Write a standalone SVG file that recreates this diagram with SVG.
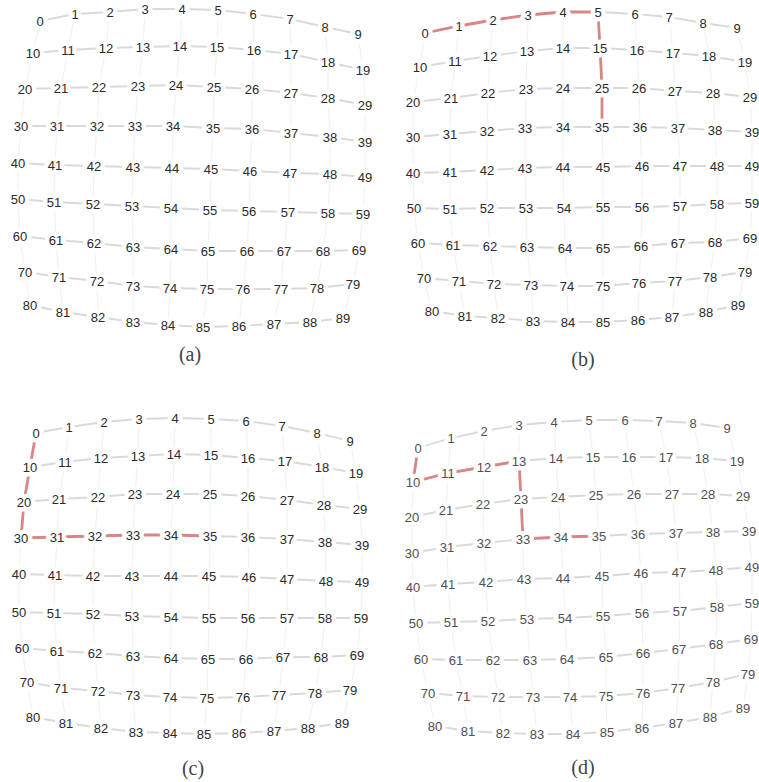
<svg xmlns="http://www.w3.org/2000/svg" width="759" height="782" viewBox="0 0 759 782">
<style>
.n{font-family:"Liberation Sans",Arial,sans-serif;font-size:13px;fill:#2a2a2a;text-anchor:middle;stroke:#fff;stroke-width:9;stroke-linejoin:round;paint-order:stroke}
#D .n{fill:#505050}
.h{fill:none;stroke:#d9d9d9;stroke-width:1.8}
.v{fill:none;stroke:#f2f2f2;stroke-width:1.2}
.r{fill:none;stroke:#d88585;stroke-width:2.8}
.cap{font-family:"Liberation Serif","Times New Roman",serif;font-size:20px;fill:#444;text-anchor:middle}
</style>
<rect width="759" height="782" fill="#fff"/>
<g id="connectors">
<g id="A-lines">
<polyline class="v" points="40,21 33,53 25,89 21,126 18,163 18,199 20,236 25,272 30,305"/>
<polyline class="v" points="75,14 68,50 61,88 57,126 55,165 54,202 56,240 59,277 63,312"/>
<polyline class="v" points="110,12 106,48 99,87 97,126 94,166 93,204 94,243 97,281 98,317"/>
<polyline class="v" points="145,9 143,47 138,86 135,126 133,167 132,206 133,247 133,286 133,322"/>
<polyline class="v" points="182,9 180,46 176,85 173,126 172,168 171,208 171,249 170,288 168,325"/>
<polyline class="v" points="218,10 217,47 214,87 213,128 211,169 210,210 208,251 207,289 203,327"/>
<polyline class="v" points="253,14 254,50 252,89 252,129 250,171 249,211 247,251 243,289 239,326"/>
<polyline class="v" points="290,19 291,54 291,93 291,133 290,173 288,212 284,251 281,289 274,324"/>
<polyline class="v" points="325,27 328,62 328,98 330,137 330,174 328,213 323,251 317,288 310,322"/>
<polyline class="v" points="358,34 363,70 365,105 365,142 365,177 363,214 359,250 353,284 343,318"/>
<polyline class="h" points="40,21 75,14 110,12 145,9 182,9 218,10 253,14 290,19 325,27 358,34"/>
<polyline class="h" points="33,53 68,50 106,48 143,47 180,46 217,47 254,50 291,54 328,62 363,70"/>
<polyline class="h" points="25,89 61,88 99,87 138,86 176,85 214,87 252,89 291,93 328,98 365,105"/>
<polyline class="h" points="21,126 57,126 97,126 135,126 173,126 213,128 252,129 291,133 330,137 365,142"/>
<polyline class="h" points="18,163 55,165 94,166 133,167 172,168 211,169 250,171 290,173 330,174 365,177"/>
<polyline class="h" points="18,199 54,202 93,204 132,206 171,208 210,210 249,211 288,212 328,213 363,214"/>
<polyline class="h" points="20,236 56,240 94,243 133,247 171,249 208,251 247,251 284,251 323,251 359,250"/>
<polyline class="h" points="25,272 59,277 97,281 133,286 170,288 207,289 243,289 281,289 317,288 353,284"/>
<polyline class="h" points="30,305 63,312 98,317 133,322 168,325 203,327 239,326 274,324 310,322 343,318"/>
</g>
<g id="B-lines">
<polyline class="v" points="425,33 420,67 413,102 413,137 413,173 414,208 418,243 424,278 432,311"/>
<polyline class="v" points="459,26 455,61 451,98 450,134 450,172 450,209 453,245 459,281 465,316"/>
<polyline class="v" points="493,20 490,56 488,93 487,131 487,170 487,208 490,246 494,284 498,318"/>
<polyline class="v" points="528,15 527,51 526,89 525,128 525,168 526,208 527,247 531,285 533,321"/>
<polyline class="v" points="563,12 563,48 563,88 563,127 563,167 564,208 565,248 567,286 568,322"/>
<polyline class="v" points="598,12 600,48 602,88 602,127 603,167 603,207 603,248 603,286 603,322"/>
<polyline class="v" points="635,14 637,50 639,88 640,127 642,166 642,207 641,246 639,283 638,320"/>
<polyline class="v" points="669,17 673,53 675,91 678,128 680,166 680,206 678,243 675,281 672,317"/>
<polyline class="v" points="703,23 709,56 713,93 715,130 717,166 717,204 715,242 710,277 706,312"/>
<polyline class="v" points="737,28 745,62 750,97 752,132 752,166 752,203 750,238 745,272 738,305"/>
<polyline class="h" points="425,33 459,26 493,20 528,15 563,12 598,12 635,14 669,17 703,23 737,28"/>
<polyline class="h" points="420,67 455,61 490,56 527,51 563,48 600,48 637,50 673,53 709,56 745,62"/>
<polyline class="h" points="413,102 451,98 488,93 526,89 563,88 602,88 639,88 675,91 713,93 750,97"/>
<polyline class="h" points="413,137 450,134 487,131 525,128 563,127 602,127 640,127 678,128 715,130 752,132"/>
<polyline class="h" points="413,173 450,172 487,170 525,168 563,167 603,167 642,166 680,166 717,166 752,166"/>
<polyline class="h" points="414,208 450,209 487,208 526,208 564,208 603,207 642,207 680,206 717,204 752,203"/>
<polyline class="h" points="418,243 453,245 490,246 527,247 565,248 603,248 641,246 678,243 715,242 750,238"/>
<polyline class="h" points="424,278 459,281 494,284 531,285 567,286 603,286 639,283 675,281 710,277 745,272"/>
<polyline class="h" points="432,311 465,316 498,318 533,321 568,322 603,322 638,320 672,317 706,312 738,305"/>
<polyline class="r" points="425,33 459,26 493,20 528,15 563,12 598,12 600,48 602,88 602,127"/>
</g>
<g id="C-lines">
<polyline class="v" points="36,433 30,467 24,502 21,538 19,574 19,612 22,648 27,682 33,717"/>
<polyline class="v" points="69,427 65,462 59,499 57,537 55,575 54,613 57,651 61,688 66,723"/>
<polyline class="v" points="104,422 101,458 98,497 95,536 93,576 93,614 95,653 98,691 101,728"/>
<polyline class="v" points="139,419 138,456 135,494 133,535 132,576 132,616 133,656 133,695 136,732"/>
<polyline class="v" points="175,418 174,454 173,494 171,535 171,576 171,617 171,658 170,697 170,733"/>
<polyline class="v" points="211,419 211,455 210,494 210,536 209,576 209,618 208,659 207,698 204,734"/>
<polyline class="v" points="246,421 248,458 248,496 248,537 249,577 248,618 246,659 243,697 239,733"/>
<polyline class="v" points="282,426 285,461 287,500 287,539 287,579 287,618 283,657 279,695 274,731"/>
<polyline class="v" points="317,433 322,467 324,505 325,542 326,581 325,618 321,657 315,693 308,728"/>
<polyline class="v" points="350,441 356,473 360,509 362,545 362,582 361,618 357,655 350,690 342,723"/>
<polyline class="h" points="36,433 69,427 104,422 139,419 175,418 211,419 246,421 282,426 317,433 350,441"/>
<polyline class="h" points="30,467 65,462 101,458 138,456 174,454 211,455 248,458 285,461 322,467 356,473"/>
<polyline class="h" points="24,502 59,499 98,497 135,494 173,494 210,494 248,496 287,500 324,505 360,509"/>
<polyline class="h" points="21,538 57,537 95,536 133,535 171,535 210,536 248,537 287,539 325,542 362,545"/>
<polyline class="h" points="19,574 55,575 93,576 132,576 171,576 209,576 249,577 287,579 326,581 362,582"/>
<polyline class="h" points="19,612 54,613 93,614 132,616 171,617 209,618 248,618 287,618 325,618 361,618"/>
<polyline class="h" points="22,648 57,651 95,653 133,656 171,658 208,659 246,659 283,657 321,657 357,655"/>
<polyline class="h" points="27,682 61,688 98,691 133,695 170,697 207,698 243,697 279,695 315,693 350,690"/>
<polyline class="h" points="33,717 66,723 101,728 136,732 170,733 204,734 239,733 274,731 308,728 342,723"/>
<polyline class="r" points="36,433 30,467 24,502 21,538 57,537 95,536 133,535 171,535 210,536"/>
</g>
<g id="D-lines">
<polyline class="v" points="418,448 413,482 412,517 412,553 413,587 416,623 421,659 428,693 435,726"/>
<polyline class="v" points="451,438 448,473 446,510 447,547 448,584 451,622 456,660 463,696 468,731"/>
<polyline class="v" points="484,431 484,467 483,504 484,543 486,582 488,621 493,660 498,697 503,733"/>
<polyline class="v" points="519,425 519,461 521,499 523,539 524,579 527,619 530,660 533,697 537,734"/>
<polyline class="v" points="554,422 556,458 558,497 561,537 563,578 565,618 567,659 570,697 573,734"/>
<polyline class="v" points="589,420 593,457 596,495 599,536 602,576 603,616 606,657 606,696 607,732"/>
<polyline class="v" points="625,420 629,457 634,494 638,534 641,573 642,613 643,653 643,693 642,728"/>
<polyline class="v" points="659,421 666,457 672,494 676,533 679,572 680,611 679,649 678,688 676,723"/>
<polyline class="v" points="693,423 702,458 708,494 713,532 716,570 717,607 716,644 713,682 710,717"/>
<polyline class="v" points="727,428 737,461 743,496 749,531 752,567 752,603 751,639 748,674 743,708"/>
<polyline class="h" points="418,448 451,438 484,431 519,425 554,422 589,420 625,420 659,421 693,423 727,428"/>
<polyline class="h" points="413,482 448,473 484,467 519,461 556,458 593,457 629,457 666,457 702,458 737,461"/>
<polyline class="h" points="412,517 446,510 483,504 521,499 558,497 596,495 634,494 672,494 708,494 743,496"/>
<polyline class="h" points="412,553 447,547 484,543 523,539 561,537 599,536 638,534 676,533 713,532 749,531"/>
<polyline class="h" points="413,587 448,584 486,582 524,579 563,578 602,576 641,573 679,572 716,570 752,567"/>
<polyline class="h" points="416,623 451,622 488,621 527,619 565,618 603,616 642,613 680,611 717,607 752,603"/>
<polyline class="h" points="421,659 456,660 493,660 530,660 567,659 606,657 643,653 679,649 716,644 751,639"/>
<polyline class="h" points="428,693 463,696 498,697 533,697 570,697 606,696 643,693 678,688 713,682 748,674"/>
<polyline class="h" points="435,726 468,731 503,733 537,734 573,734 607,732 642,728 676,723 710,717 743,708"/>
<polyline class="r" points="418,448 413,482 448,473 484,467 519,461 521,499 523,539 561,537 599,536"/>
</g>
</g>
<g id="A">
<g id="a0"><text class="n" x="40" y="26">0</text></g><g id="a1"><text class="n" x="75" y="19">1</text></g><g id="a2"><text class="n" x="110" y="17">2</text></g><g id="a3"><text class="n" x="145" y="14">3</text></g><g id="a4"><text class="n" x="182" y="14">4</text></g><g id="a5"><text class="n" x="218" y="15">5</text></g><g id="a6"><text class="n" x="253" y="19">6</text></g><g id="a7"><text class="n" x="290" y="24">7</text></g><g id="a8"><text class="n" x="325" y="32">8</text></g><g id="a9"><text class="n" x="358" y="39">9</text></g>
<g id="a10"><text class="n" x="33" y="58">10</text></g><g id="a11"><text class="n" x="68" y="55">11</text></g><g id="a12"><text class="n" x="106" y="53">12</text></g><g id="a13"><text class="n" x="143" y="52">13</text></g><g id="a14"><text class="n" x="180" y="51">14</text></g><g id="a15"><text class="n" x="217" y="52">15</text></g><g id="a16"><text class="n" x="254" y="55">16</text></g><g id="a17"><text class="n" x="291" y="59">17</text></g><g id="a18"><text class="n" x="328" y="67">18</text></g><g id="a19"><text class="n" x="363" y="75">19</text></g>
<g id="a20"><text class="n" x="25" y="94">20</text></g><g id="a21"><text class="n" x="61" y="93">21</text></g><g id="a22"><text class="n" x="99" y="92">22</text></g><g id="a23"><text class="n" x="138" y="91">23</text></g><g id="a24"><text class="n" x="176" y="90">24</text></g><g id="a25"><text class="n" x="214" y="92">25</text></g><g id="a26"><text class="n" x="252" y="94">26</text></g><g id="a27"><text class="n" x="291" y="98">27</text></g><g id="a28"><text class="n" x="328" y="103">28</text></g><g id="a29"><text class="n" x="365" y="110">29</text></g>
<g id="a30"><text class="n" x="21" y="131">30</text></g><g id="a31"><text class="n" x="57" y="131">31</text></g><g id="a32"><text class="n" x="97" y="131">32</text></g><g id="a33"><text class="n" x="135" y="131">33</text></g><g id="a34"><text class="n" x="173" y="131">34</text></g><g id="a35"><text class="n" x="213" y="133">35</text></g><g id="a36"><text class="n" x="252" y="134">36</text></g><g id="a37"><text class="n" x="291" y="138">37</text></g><g id="a38"><text class="n" x="330" y="142">38</text></g><g id="a39"><text class="n" x="365" y="147">39</text></g>
<g id="a40"><text class="n" x="18" y="168">40</text></g><g id="a41"><text class="n" x="55" y="170">41</text></g><g id="a42"><text class="n" x="94" y="171">42</text></g><g id="a43"><text class="n" x="133" y="172">43</text></g><g id="a44"><text class="n" x="172" y="173">44</text></g><g id="a45"><text class="n" x="211" y="174">45</text></g><g id="a46"><text class="n" x="250" y="176">46</text></g><g id="a47"><text class="n" x="290" y="178">47</text></g><g id="a48"><text class="n" x="330" y="179">48</text></g><g id="a49"><text class="n" x="365" y="182">49</text></g>
<g id="a50"><text class="n" x="18" y="204">50</text></g><g id="a51"><text class="n" x="54" y="207">51</text></g><g id="a52"><text class="n" x="93" y="209">52</text></g><g id="a53"><text class="n" x="132" y="211">53</text></g><g id="a54"><text class="n" x="171" y="213">54</text></g><g id="a55"><text class="n" x="210" y="215">55</text></g><g id="a56"><text class="n" x="249" y="216">56</text></g><g id="a57"><text class="n" x="288" y="217">57</text></g><g id="a58"><text class="n" x="328" y="218">58</text></g><g id="a59"><text class="n" x="363" y="219">59</text></g>
<g id="a60"><text class="n" x="20" y="241">60</text></g><g id="a61"><text class="n" x="56" y="245">61</text></g><g id="a62"><text class="n" x="94" y="248">62</text></g><g id="a63"><text class="n" x="133" y="252">63</text></g><g id="a64"><text class="n" x="171" y="254">64</text></g><g id="a65"><text class="n" x="208" y="256">65</text></g><g id="a66"><text class="n" x="247" y="256">66</text></g><g id="a67"><text class="n" x="284" y="256">67</text></g><g id="a68"><text class="n" x="323" y="256">68</text></g><g id="a69"><text class="n" x="359" y="255">69</text></g>
<g id="a70"><text class="n" x="25" y="277">70</text></g><g id="a71"><text class="n" x="59" y="282">71</text></g><g id="a72"><text class="n" x="97" y="286">72</text></g><g id="a73"><text class="n" x="133" y="291">73</text></g><g id="a74"><text class="n" x="170" y="293">74</text></g><g id="a75"><text class="n" x="207" y="294">75</text></g><g id="a76"><text class="n" x="243" y="294">76</text></g><g id="a77"><text class="n" x="281" y="294">77</text></g><g id="a78"><text class="n" x="317" y="293">78</text></g><g id="a79"><text class="n" x="353" y="289">79</text></g>
<g id="a80"><text class="n" x="30" y="310">80</text></g><g id="a81"><text class="n" x="63" y="317">81</text></g><g id="a82"><text class="n" x="98" y="322">82</text></g><g id="a83"><text class="n" x="133" y="327">83</text></g><g id="a84"><text class="n" x="168" y="330">84</text></g><g id="a85"><text class="n" x="203" y="332">85</text></g><g id="a86"><text class="n" x="239" y="331">86</text></g><g id="a87"><text class="n" x="274" y="329">87</text></g><g id="a88"><text class="n" x="310" y="327">88</text></g><g id="a89"><text class="n" x="343" y="323">89</text></g>
<text class="cap" x="190" y="361">(a)</text>
</g>
<g id="B">
<g id="b0"><text class="n" x="425" y="38">0</text></g><g id="b1"><text class="n" x="459" y="31">1</text></g><g id="b2"><text class="n" x="493" y="25">2</text></g><g id="b3"><text class="n" x="528" y="20">3</text></g><g id="b4"><text class="n" x="563" y="17">4</text></g><g id="b5"><text class="n" x="598" y="17">5</text></g><g id="b6"><text class="n" x="635" y="19">6</text></g><g id="b7"><text class="n" x="669" y="22">7</text></g><g id="b8"><text class="n" x="703" y="28">8</text></g><g id="b9"><text class="n" x="737" y="33">9</text></g>
<g id="b10"><text class="n" x="420" y="72">10</text></g><g id="b11"><text class="n" x="455" y="66">11</text></g><g id="b12"><text class="n" x="490" y="61">12</text></g><g id="b13"><text class="n" x="527" y="56">13</text></g><g id="b14"><text class="n" x="563" y="53">14</text></g><g id="b15"><text class="n" x="600" y="53">15</text></g><g id="b16"><text class="n" x="637" y="55">16</text></g><g id="b17"><text class="n" x="673" y="58">17</text></g><g id="b18"><text class="n" x="709" y="61">18</text></g><g id="b19"><text class="n" x="745" y="67">19</text></g>
<g id="b20"><text class="n" x="413" y="107">20</text></g><g id="b21"><text class="n" x="451" y="103">21</text></g><g id="b22"><text class="n" x="488" y="98">22</text></g><g id="b23"><text class="n" x="526" y="94">23</text></g><g id="b24"><text class="n" x="563" y="93">24</text></g><g id="b25"><text class="n" x="602" y="93">25</text></g><g id="b26"><text class="n" x="639" y="93">26</text></g><g id="b27"><text class="n" x="675" y="96">27</text></g><g id="b28"><text class="n" x="713" y="98">28</text></g><g id="b29"><text class="n" x="750" y="102">29</text></g>
<g id="b30"><text class="n" x="413" y="142">30</text></g><g id="b31"><text class="n" x="450" y="139">31</text></g><g id="b32"><text class="n" x="487" y="136">32</text></g><g id="b33"><text class="n" x="525" y="133">33</text></g><g id="b34"><text class="n" x="563" y="132">34</text></g><g id="b35"><text class="n" x="602" y="132">35</text></g><g id="b36"><text class="n" x="640" y="132">36</text></g><g id="b37"><text class="n" x="678" y="133">37</text></g><g id="b38"><text class="n" x="715" y="135">38</text></g><g id="b39"><text class="n" x="752" y="137">39</text></g>
<g id="b40"><text class="n" x="413" y="178">40</text></g><g id="b41"><text class="n" x="450" y="177">41</text></g><g id="b42"><text class="n" x="487" y="175">42</text></g><g id="b43"><text class="n" x="525" y="173">43</text></g><g id="b44"><text class="n" x="563" y="172">44</text></g><g id="b45"><text class="n" x="603" y="172">45</text></g><g id="b46"><text class="n" x="642" y="171">46</text></g><g id="b47"><text class="n" x="680" y="171">47</text></g><g id="b48"><text class="n" x="717" y="171">48</text></g><g id="b49"><text class="n" x="752" y="171">49</text></g>
<g id="b50"><text class="n" x="414" y="213">50</text></g><g id="b51"><text class="n" x="450" y="214">51</text></g><g id="b52"><text class="n" x="487" y="213">52</text></g><g id="b53"><text class="n" x="526" y="213">53</text></g><g id="b54"><text class="n" x="564" y="213">54</text></g><g id="b55"><text class="n" x="603" y="212">55</text></g><g id="b56"><text class="n" x="642" y="212">56</text></g><g id="b57"><text class="n" x="680" y="211">57</text></g><g id="b58"><text class="n" x="717" y="209">58</text></g><g id="b59"><text class="n" x="752" y="208">59</text></g>
<g id="b60"><text class="n" x="418" y="248">60</text></g><g id="b61"><text class="n" x="453" y="250">61</text></g><g id="b62"><text class="n" x="490" y="251">62</text></g><g id="b63"><text class="n" x="527" y="252">63</text></g><g id="b64"><text class="n" x="565" y="253">64</text></g><g id="b65"><text class="n" x="603" y="253">65</text></g><g id="b66"><text class="n" x="641" y="251">66</text></g><g id="b67"><text class="n" x="678" y="248">67</text></g><g id="b68"><text class="n" x="715" y="247">68</text></g><g id="b69"><text class="n" x="750" y="243">69</text></g>
<g id="b70"><text class="n" x="424" y="283">70</text></g><g id="b71"><text class="n" x="459" y="286">71</text></g><g id="b72"><text class="n" x="494" y="289">72</text></g><g id="b73"><text class="n" x="531" y="290">73</text></g><g id="b74"><text class="n" x="567" y="291">74</text></g><g id="b75"><text class="n" x="603" y="291">75</text></g><g id="b76"><text class="n" x="639" y="288">76</text></g><g id="b77"><text class="n" x="675" y="286">77</text></g><g id="b78"><text class="n" x="710" y="282">78</text></g><g id="b79"><text class="n" x="745" y="277">79</text></g>
<g id="b80"><text class="n" x="432" y="316">80</text></g><g id="b81"><text class="n" x="465" y="321">81</text></g><g id="b82"><text class="n" x="498" y="323">82</text></g><g id="b83"><text class="n" x="533" y="326">83</text></g><g id="b84"><text class="n" x="568" y="327">84</text></g><g id="b85"><text class="n" x="603" y="327">85</text></g><g id="b86"><text class="n" x="638" y="325">86</text></g><g id="b87"><text class="n" x="672" y="322">87</text></g><g id="b88"><text class="n" x="706" y="317">88</text></g><g id="b89"><text class="n" x="738" y="310">89</text></g>
<text class="cap" x="583" y="366">(b)</text>
</g>
<g id="C">
<g id="c0"><text class="n" x="36" y="438">0</text></g><g id="c1"><text class="n" x="69" y="432">1</text></g><g id="c2"><text class="n" x="104" y="427">2</text></g><g id="c3"><text class="n" x="139" y="424">3</text></g><g id="c4"><text class="n" x="175" y="423">4</text></g><g id="c5"><text class="n" x="211" y="424">5</text></g><g id="c6"><text class="n" x="246" y="426">6</text></g><g id="c7"><text class="n" x="282" y="431">7</text></g><g id="c8"><text class="n" x="317" y="438">8</text></g><g id="c9"><text class="n" x="350" y="446">9</text></g>
<g id="c10"><text class="n" x="30" y="472">10</text></g><g id="c11"><text class="n" x="65" y="467">11</text></g><g id="c12"><text class="n" x="101" y="463">12</text></g><g id="c13"><text class="n" x="138" y="461">13</text></g><g id="c14"><text class="n" x="174" y="459">14</text></g><g id="c15"><text class="n" x="211" y="460">15</text></g><g id="c16"><text class="n" x="248" y="463">16</text></g><g id="c17"><text class="n" x="285" y="466">17</text></g><g id="c18"><text class="n" x="322" y="472">18</text></g><g id="c19"><text class="n" x="356" y="478">19</text></g>
<g id="c20"><text class="n" x="24" y="507">20</text></g><g id="c21"><text class="n" x="59" y="504">21</text></g><g id="c22"><text class="n" x="98" y="502">22</text></g><g id="c23"><text class="n" x="135" y="499">23</text></g><g id="c24"><text class="n" x="173" y="499">24</text></g><g id="c25"><text class="n" x="210" y="499">25</text></g><g id="c26"><text class="n" x="248" y="501">26</text></g><g id="c27"><text class="n" x="287" y="505">27</text></g><g id="c28"><text class="n" x="324" y="510">28</text></g><g id="c29"><text class="n" x="360" y="514">29</text></g>
<g id="c30"><text class="n" x="21" y="543">30</text></g><g id="c31"><text class="n" x="57" y="542">31</text></g><g id="c32"><text class="n" x="95" y="541">32</text></g><g id="c33"><text class="n" x="133" y="540">33</text></g><g id="c34"><text class="n" x="171" y="540">34</text></g><g id="c35"><text class="n" x="210" y="541">35</text></g><g id="c36"><text class="n" x="248" y="542">36</text></g><g id="c37"><text class="n" x="287" y="544">37</text></g><g id="c38"><text class="n" x="325" y="547">38</text></g><g id="c39"><text class="n" x="362" y="550">39</text></g>
<g id="c40"><text class="n" x="19" y="579">40</text></g><g id="c41"><text class="n" x="55" y="580">41</text></g><g id="c42"><text class="n" x="93" y="581">42</text></g><g id="c43"><text class="n" x="132" y="581">43</text></g><g id="c44"><text class="n" x="171" y="581">44</text></g><g id="c45"><text class="n" x="209" y="581">45</text></g><g id="c46"><text class="n" x="249" y="582">46</text></g><g id="c47"><text class="n" x="287" y="584">47</text></g><g id="c48"><text class="n" x="326" y="586">48</text></g><g id="c49"><text class="n" x="362" y="587">49</text></g>
<g id="c50"><text class="n" x="19" y="617">50</text></g><g id="c51"><text class="n" x="54" y="618">51</text></g><g id="c52"><text class="n" x="93" y="619">52</text></g><g id="c53"><text class="n" x="132" y="621">53</text></g><g id="c54"><text class="n" x="171" y="622">54</text></g><g id="c55"><text class="n" x="209" y="623">55</text></g><g id="c56"><text class="n" x="248" y="623">56</text></g><g id="c57"><text class="n" x="287" y="623">57</text></g><g id="c58"><text class="n" x="325" y="623">58</text></g><g id="c59"><text class="n" x="361" y="623">59</text></g>
<g id="c60"><text class="n" x="22" y="653">60</text></g><g id="c61"><text class="n" x="57" y="656">61</text></g><g id="c62"><text class="n" x="95" y="658">62</text></g><g id="c63"><text class="n" x="133" y="661">63</text></g><g id="c64"><text class="n" x="171" y="663">64</text></g><g id="c65"><text class="n" x="208" y="664">65</text></g><g id="c66"><text class="n" x="246" y="664">66</text></g><g id="c67"><text class="n" x="283" y="662">67</text></g><g id="c68"><text class="n" x="321" y="662">68</text></g><g id="c69"><text class="n" x="357" y="660">69</text></g>
<g id="c70"><text class="n" x="27" y="687">70</text></g><g id="c71"><text class="n" x="61" y="693">71</text></g><g id="c72"><text class="n" x="98" y="696">72</text></g><g id="c73"><text class="n" x="133" y="700">73</text></g><g id="c74"><text class="n" x="170" y="702">74</text></g><g id="c75"><text class="n" x="207" y="703">75</text></g><g id="c76"><text class="n" x="243" y="702">76</text></g><g id="c77"><text class="n" x="279" y="700">77</text></g><g id="c78"><text class="n" x="315" y="698">78</text></g><g id="c79"><text class="n" x="350" y="695">79</text></g>
<g id="c80"><text class="n" x="33" y="722">80</text></g><g id="c81"><text class="n" x="66" y="728">81</text></g><g id="c82"><text class="n" x="101" y="733">82</text></g><g id="c83"><text class="n" x="136" y="737">83</text></g><g id="c84"><text class="n" x="170" y="738">84</text></g><g id="c85"><text class="n" x="204" y="739">85</text></g><g id="c86"><text class="n" x="239" y="738">86</text></g><g id="c87"><text class="n" x="274" y="736">87</text></g><g id="c88"><text class="n" x="308" y="733">88</text></g><g id="c89"><text class="n" x="342" y="728">89</text></g>
<text class="cap" x="193" y="775">(c)</text>
</g>
<g id="D">
<g id="d0"><text class="n" x="418" y="453">0</text></g><g id="d1"><text class="n" x="451" y="443">1</text></g><g id="d2"><text class="n" x="484" y="436">2</text></g><g id="d3"><text class="n" x="519" y="430">3</text></g><g id="d4"><text class="n" x="554" y="427">4</text></g><g id="d5"><text class="n" x="589" y="425">5</text></g><g id="d6"><text class="n" x="625" y="425">6</text></g><g id="d7"><text class="n" x="659" y="426">7</text></g><g id="d8"><text class="n" x="693" y="428">8</text></g><g id="d9"><text class="n" x="727" y="433">9</text></g>
<g id="d10"><text class="n" x="413" y="487">10</text></g><g id="d11"><text class="n" x="448" y="478">11</text></g><g id="d12"><text class="n" x="484" y="472">12</text></g><g id="d13"><text class="n" x="519" y="466">13</text></g><g id="d14"><text class="n" x="556" y="463">14</text></g><g id="d15"><text class="n" x="593" y="462">15</text></g><g id="d16"><text class="n" x="629" y="462">16</text></g><g id="d17"><text class="n" x="666" y="462">17</text></g><g id="d18"><text class="n" x="702" y="463">18</text></g><g id="d19"><text class="n" x="737" y="466">19</text></g>
<g id="d20"><text class="n" x="412" y="522">20</text></g><g id="d21"><text class="n" x="446" y="515">21</text></g><g id="d22"><text class="n" x="483" y="509">22</text></g><g id="d23"><text class="n" x="521" y="504">23</text></g><g id="d24"><text class="n" x="558" y="502">24</text></g><g id="d25"><text class="n" x="596" y="500">25</text></g><g id="d26"><text class="n" x="634" y="499">26</text></g><g id="d27"><text class="n" x="672" y="499">27</text></g><g id="d28"><text class="n" x="708" y="499">28</text></g><g id="d29"><text class="n" x="743" y="501">29</text></g>
<g id="d30"><text class="n" x="412" y="558">30</text></g><g id="d31"><text class="n" x="447" y="552">31</text></g><g id="d32"><text class="n" x="484" y="548">32</text></g><g id="d33"><text class="n" x="523" y="544">33</text></g><g id="d34"><text class="n" x="561" y="542">34</text></g><g id="d35"><text class="n" x="599" y="541">35</text></g><g id="d36"><text class="n" x="638" y="539">36</text></g><g id="d37"><text class="n" x="676" y="538">37</text></g><g id="d38"><text class="n" x="713" y="537">38</text></g><g id="d39"><text class="n" x="749" y="536">39</text></g>
<g id="d40"><text class="n" x="413" y="592">40</text></g><g id="d41"><text class="n" x="448" y="589">41</text></g><g id="d42"><text class="n" x="486" y="587">42</text></g><g id="d43"><text class="n" x="524" y="584">43</text></g><g id="d44"><text class="n" x="563" y="583">44</text></g><g id="d45"><text class="n" x="602" y="581">45</text></g><g id="d46"><text class="n" x="641" y="578">46</text></g><g id="d47"><text class="n" x="679" y="577">47</text></g><g id="d48"><text class="n" x="716" y="575">48</text></g><g id="d49"><text class="n" x="752" y="572">49</text></g>
<g id="d50"><text class="n" x="416" y="628">50</text></g><g id="d51"><text class="n" x="451" y="627">51</text></g><g id="d52"><text class="n" x="488" y="626">52</text></g><g id="d53"><text class="n" x="527" y="624">53</text></g><g id="d54"><text class="n" x="565" y="623">54</text></g><g id="d55"><text class="n" x="603" y="621">55</text></g><g id="d56"><text class="n" x="642" y="618">56</text></g><g id="d57"><text class="n" x="680" y="616">57</text></g><g id="d58"><text class="n" x="717" y="612">58</text></g><g id="d59"><text class="n" x="752" y="608">59</text></g>
<g id="d60"><text class="n" x="421" y="664">60</text></g><g id="d61"><text class="n" x="456" y="665">61</text></g><g id="d62"><text class="n" x="493" y="665">62</text></g><g id="d63"><text class="n" x="530" y="665">63</text></g><g id="d64"><text class="n" x="567" y="664">64</text></g><g id="d65"><text class="n" x="606" y="662">65</text></g><g id="d66"><text class="n" x="643" y="658">66</text></g><g id="d67"><text class="n" x="679" y="654">67</text></g><g id="d68"><text class="n" x="716" y="649">68</text></g><g id="d69"><text class="n" x="751" y="644">69</text></g>
<g id="d70"><text class="n" x="428" y="698">70</text></g><g id="d71"><text class="n" x="463" y="701">71</text></g><g id="d72"><text class="n" x="498" y="702">72</text></g><g id="d73"><text class="n" x="533" y="702">73</text></g><g id="d74"><text class="n" x="570" y="702">74</text></g><g id="d75"><text class="n" x="606" y="701">75</text></g><g id="d76"><text class="n" x="643" y="698">76</text></g><g id="d77"><text class="n" x="678" y="693">77</text></g><g id="d78"><text class="n" x="713" y="687">78</text></g><g id="d79"><text class="n" x="748" y="679">79</text></g>
<g id="d80"><text class="n" x="435" y="731">80</text></g><g id="d81"><text class="n" x="468" y="736">81</text></g><g id="d82"><text class="n" x="503" y="738">82</text></g><g id="d83"><text class="n" x="537" y="739">83</text></g><g id="d84"><text class="n" x="573" y="739">84</text></g><g id="d85"><text class="n" x="607" y="737">85</text></g><g id="d86"><text class="n" x="642" y="733">86</text></g><g id="d87"><text class="n" x="676" y="728">87</text></g><g id="d88"><text class="n" x="710" y="722">88</text></g><g id="d89"><text class="n" x="743" y="713">89</text></g>
<text class="cap" x="583" y="774">(d)</text>
</g>
</svg>
